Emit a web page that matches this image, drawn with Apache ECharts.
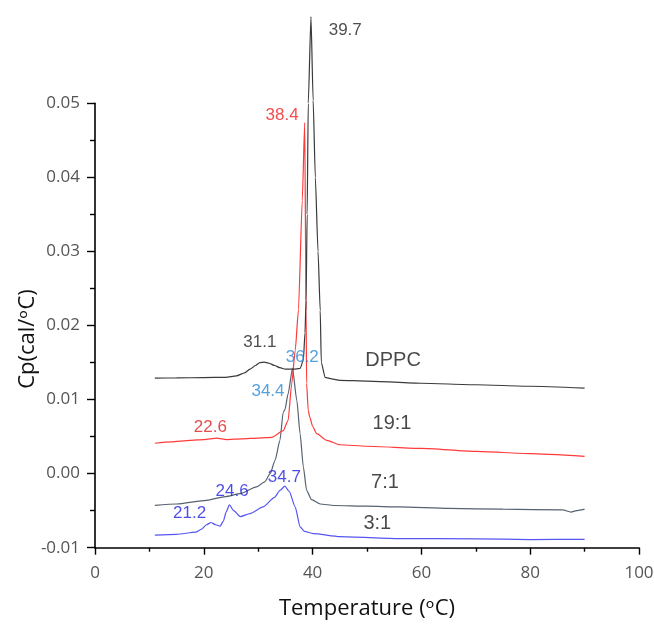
<!DOCTYPE html>
<html>
<head>
<meta charset="utf-8">
<script src="https://cdn.jsdelivr.net/npm/echarts@6/dist/echarts.min.js"></script>
<style>
html,body{margin:0;padding:0;background:#fff;}
#chart{width:654px;height:626px;}
</style>
</head>
<body>
<div id="chart"></div>
<script>
// ---- Data (Temperature °C, Cp cal/°C) ----
var dppcT  = [11, 15, 20, 24, 26, 27.5, 28.5, 29.5, 30.3, 31.1, 32, 33, 34, 35, 36.5, 37.7, 38.3, 38.6, 38.8, 39.0, 39.2, 39.7, 40.1, 40.5, 41.0, 41.4, 41.6, 42.3, 43.5, 45, 50, 60, 70, 80, 90];
var dppcCp = [0.0129, 0.01292, 0.01297, 0.0130, 0.0132, 0.0136, 0.0141, 0.0146, 0.0150, 0.01506, 0.0149, 0.0146, 0.0143, 0.0141, 0.0141, 0.0142, 0.0153, 0.019, 0.0234, 0.035, 0.050, 0.0617, 0.0504, 0.040, 0.030, 0.022, 0.0150, 0.0130, 0.0128, 0.0126, 0.0125, 0.0122, 0.0120, 0.0118, 0.01155];

var r19T  = [11, 14, 17.5, 20, 22.4, 24.2, 27, 30, 32.5, 34.6, 35.5, 36.15, 36.8, 37.4, 38.1, 38.55, 38.8, 38.9, 39.2, 39.5, 40.0, 40.75, 42.6, 45, 50, 60, 70, 80, 90];
var r19Cp = [0.0041, 0.0043, 0.0045, 0.0046, 0.0048, 0.0046, 0.0047, 0.0048, 0.0049, 0.0058, 0.0072, 0.0121, 0.0166, 0.0221, 0.0369, 0.0474, 0.022, 0.0122, 0.0085, 0.0076, 0.0064, 0.0054, 0.0045, 0.0039, 0.0037, 0.0034, 0.0030, 0.0027, 0.00233];

var r7T  = [11, 15, 20.5, 24, 26.7, 29.7, 31.2, 32.2, 33.1, 34.0, 34.6, 34.9, 35.5, 36.3, 37.1, 37.7, 38.3, 38.9, 39.8, 41.4, 44, 50, 56, 65, 75, 86, 87.5, 88.5, 90];
var r7Cp = [-0.00428, -0.0041, -0.0036, -0.0031, -0.0027, -0.0018, -0.0011, 0.0, 0.0018, 0.0045, 0.0083, 0.0086, 0.0108, 0.0142, 0.0099, 0.0054, 0.0009, -0.00225, -0.0035, -0.0041, -0.0043, -0.0044, -0.0045, -0.0047, -0.0048, -0.0049, -0.0052, -0.0050, -0.0048];

var r3T  = [11, 15, 18.5, 19.6, 20.5, 21.3, 22.2, 23, 23.6, 24.1, 24.7, 25.5, 26.7, 28.5, 30.9, 33, 34, 34.9, 35.7, 36.8, 37.7, 38.5, 40.1, 45, 56, 70, 80, 90];
var r3Cp = [-0.0083, -0.0082, -0.0079, -0.0075, -0.0069, -0.0066, -0.0069, -0.0071, -0.0064, -0.0052, -0.0042, -0.0050, -0.0058, -0.0054, -0.0045, -0.0032, -0.00225, -0.0017, -0.0024, -0.0045, -0.0072, -0.0078, -0.0081, -0.0085, -0.00877, -0.0088, -0.0089, -0.00887];

var seriesNames = ['DPPC', '19:1', '7:1', '3:1'];
var peakLabels  = ['39.7', '31.1', '38.4', '22.6', '36.2', '34.4', '34.7', '24.6', '21.2'];
var xTicks = [0, 20, 40, 60, 80, 100];
var yTicks = [-0.01, 0.00, 0.01, 0.02, 0.03, 0.04, 0.05];
var xTitle = 'Temperature (ᵒC)';
var yTitle = 'Cp(cal/ᵒC)';

// ---- Layout / style (annotation anchors in data units) ----
var peakLabelPos = [[46.0, 0.0598], [30.3, 0.0177], [34.4, 0.0484], [21.2, 0.00625], [38.1, 0.01574], [31.8, 0.0111], [34.8, -0.00046], [25.2, -0.00235], [17.4, -0.0054]];
var peakLabelColor = ['#222222', '#222222', '#ee2222', '#dd2222', '#2a8ad4', '#2a8ad4', '#1f1fe0', '#1f1fe0', '#1f1fe0'];
var nameLabelPos = [[54.8, 0.0153], [54.6, 0.00675], [53.3, -0.00113], [51.9, -0.00667]];
var lineColors = ['#3a3a3a', '#ff3a3a', '#55626f', '#5555f0'];

function pairs(xs, ys) { return xs.map(function (x, i) { return [x, ys[i]]; }); }
var allData = [pairs(dppcT, dppcCp), pairs(r19T, r19Cp), pairs(r7T, r7Cp), pairs(r3T, r3Cp)];

var chart = echarts.init(document.getElementById('chart'), null, {renderer: 'canvas'});

var series = allData.map(function (d, i) {
  return {
    name: seriesNames[i], type: 'line', data: d, showSymbol: false, symbol: 'none',
    smooth: 0.2, smoothMonotone: 'x', clip: false, silent: true,
    lineStyle: {color: lineColors[i], width: 1.2}, z: 4 - i
  };
});

series.push({
  type: 'scatter', silent: true, clip: false, symbolSize: 0, z: 10,
  data: peakLabels.map(function (t, i) {
    return {value: [peakLabelPos[i][0], peakLabelPos[i][1], t], label: {color: peakLabelColor[i]}};
  }),
  label: {
    show: true, position: 'inside', fontFamily: 'Liberation Sans', fontSize: 17,
    formatter: function (p) { return p.value[2]; }
  },
  labelLayout: {hideOverlap: false}
});

series.push({
  type: 'scatter', silent: true, clip: false, symbolSize: 0, z: 10,
  data: seriesNames.map(function (n, i) { return {value: [nameLabelPos[i][0], nameLabelPos[i][1], n]}; }),
  label: {
    show: true, position: 'inside', fontFamily: 'Liberation Sans', fontSize: 20, color: '#1a1a1a',
    formatter: function (p) { return p.value[2]; }
  },
  labelLayout: {hideOverlap: false}
});

chart.setOption({
  animation: false,
  backgroundColor: '#ffffff',
  grid: {left: 95, top: 103.3, width: 544, height: 444.4, outerBoundsMode: 'none', containLabel: false},
  xAxis: {
    type: 'value', min: 0, max: 100, interval: 20,
    name: xTitle, nameLocation: 'middle', nameGap: 50,
    nameTextStyle: {fontFamily: '"Open Sans", "DejaVu Sans"', fontSize: 22, color: '#111'},
    axisLine: {show: true, onZero: false, lineStyle: {color: '#000', width: 1.6}},
    axisTick: {show: true, inside: false, length: 7, lineStyle: {color: '#000', width: 1.4}},
    minorTick: {show: true, splitNumber: 2, length: 4, lineStyle: {color: '#000', width: 1.4}},
    splitLine: {show: false}, minorSplitLine: {show: false},
    axisLabel: {margin: 17, fontFamily: 'Open Sans', fontSize: 17, color: '#555',
      formatter: function (v) { return xTicks.indexOf(v) >= 0 ? String(v) : ''; }}
  },
  yAxis: {
    type: 'value', min: -0.01, max: 0.05, interval: 0.01,
    axisLine: {show: true, onZero: false, lineStyle: {color: '#000', width: 1.6}},
    axisTick: {show: true, inside: false, length: 8, lineStyle: {color: '#000', width: 1.4}},
    minorTick: {show: true, splitNumber: 2, length: 5, lineStyle: {color: '#000', width: 1.4}},
    splitLine: {show: false}, minorSplitLine: {show: false},
    axisLabel: {margin: 15, fontFamily: 'Open Sans', fontSize: 17, color: '#555',
      formatter: function (v) { return v.toFixed(2); }}
  },
  graphic: [{
    type: 'text', x: 28, y: 339, rotation: Math.PI / 2, silent: true,
    style: {
      text: yTitle, font: '22px "Open Sans", "DejaVu Sans"', fill: '#111',
      align: 'center', verticalAlign: 'middle', textAlign: 'center', textVerticalAlign: 'middle'
    }
  }],
  series: series
});
</script>
</body>
</html>
